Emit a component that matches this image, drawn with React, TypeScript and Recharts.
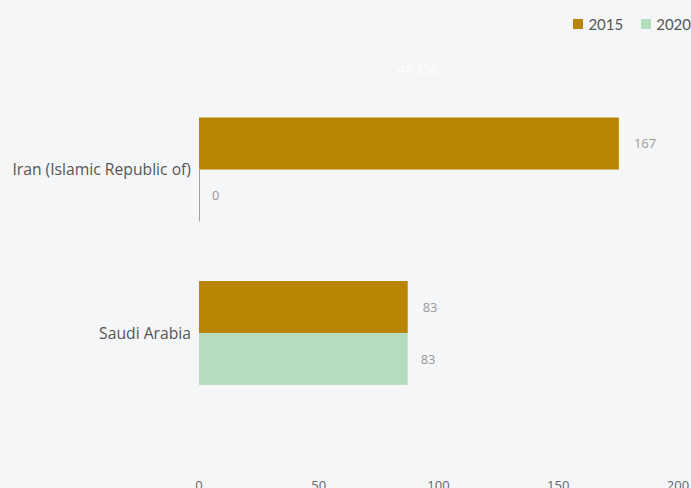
import React from "react";
import { BarChart, Bar, XAxis, YAxis, Legend, LabelList, Customized } from "recharts";

const categories = ["Iran (Islamic Republic of)", "Saudi Arabia"];
const values2015 = [167, 83];
const values2020 = [0, 83];
const xTicks = [0, 50, 100, 150, 200];
const totalLabel = "49 356";

const data = categories.map((name, i) => ({ name, v2015: values2015[i], v2020: values2020[i] }));

const C2015 = "#b98500";
const C2020 = "#b5dcbd";
const BG = "#f5f6f8";

const ZeroAwareBar = (props: any) => {
  const { x, y, width, height, fill, value } = props;
  if (!value) {
    return <line x1={x + 0.5} x2={x + 0.5} y1={y} y2={y + height} stroke="#a0a0a0" strokeWidth={1} />;
  }
  return <rect x={x} y={y} width={width} height={height} fill={fill} />;
};

const XTick = (props: any) => {
  const { x, y, payload } = props;
  const ty = Math.min(Number(y) || 481, 481);
  return (
    <text x={x} y={ty} dy="0.71em" textAnchor="middle" fill="#666" fontSize={13} fontFamily="Open Sans, sans-serif">
      {payload.value}
    </text>
  );
};

const LegendContent = () => (
  <div style={{ display: "flex", gap: 18, fontFamily: "Lato, sans-serif", fontSize: 15, color: "#555" }}>
    {[{ c: C2015, t: "2015" }, { c: C2020, t: "2020" }].map((it) => (
      <div key={it.t} style={{ display: "flex", alignItems: "center", gap: 5 }}>
        <span style={{ width: 10, height: 10, background: it.c, display: "inline-block" }} />
        <span>{it.t}</span>
      </div>
    ))}
  </div>
);

export default function App() {
  return (
    <div style={{ width: 691, height: 488, overflow: "hidden", background: BG }}>
      <style>{`body{margin:0;background:${BG}}`}</style>
      <BarChart
        width={691}
        height={488}
        data={data}
        layout="vertical"
        margin={{ top: 88, right: 13, bottom: 0, left: 0 }}
        barCategoryGap="18%"
        barGap={0}
      >
        <XAxis
          xAxisId="ticks"
          type="number"
          domain={[0, 200]}
          allowDataOverflow
          ticks={xTicks}
          axisLine={false}
          tickLine={false}
          height={20}
          tick={<XTick />}
          interval={0}
        />
        <XAxis xAxisId="bars" type="number" domain={[0, 190.5]} allowDataOverflow hide />
        <YAxis
          type="category"
          dataKey="name"
          width={199}
          axisLine={false}
          tickLine={false}
          padding={{ top: 0, bottom: 53 }}
          tick={{ fill: "#555", fontSize: 15.7, fontFamily: "Open Sans, sans-serif" }}
        />
        <Legend
          layout="horizontal"
          verticalAlign="middle"
          align="center"
          wrapperStyle={{ top: 15, right: 0, left: "auto", width: "auto", bottom: "auto" }}
          content={<LegendContent />}
        />
        <Bar xAxisId="bars" dataKey="v2015" fill={C2015} isAnimationActive={false}>
          <LabelList dataKey="v2015" position="right" offset={15} fill="#999" fontSize={13} fontFamily="Open Sans, sans-serif" />
        </Bar>
        <Bar xAxisId="bars" dataKey="v2020" fill={C2020} isAnimationActive={false} shape={<ZeroAwareBar />}>
          <LabelList dataKey="v2020" position="right" offset={13} fill="#999" fontSize={13} fontFamily="Open Sans, sans-serif" />
        </Bar>
        <Customized
          component={() => (
            <text x={418} y={74} textAnchor="middle" fill="#ffffff" fontSize={13} fontFamily="Open Sans, sans-serif">
              {totalLabel}
            </text>
          )}
        />
      </BarChart>
    </div>
  );
}
